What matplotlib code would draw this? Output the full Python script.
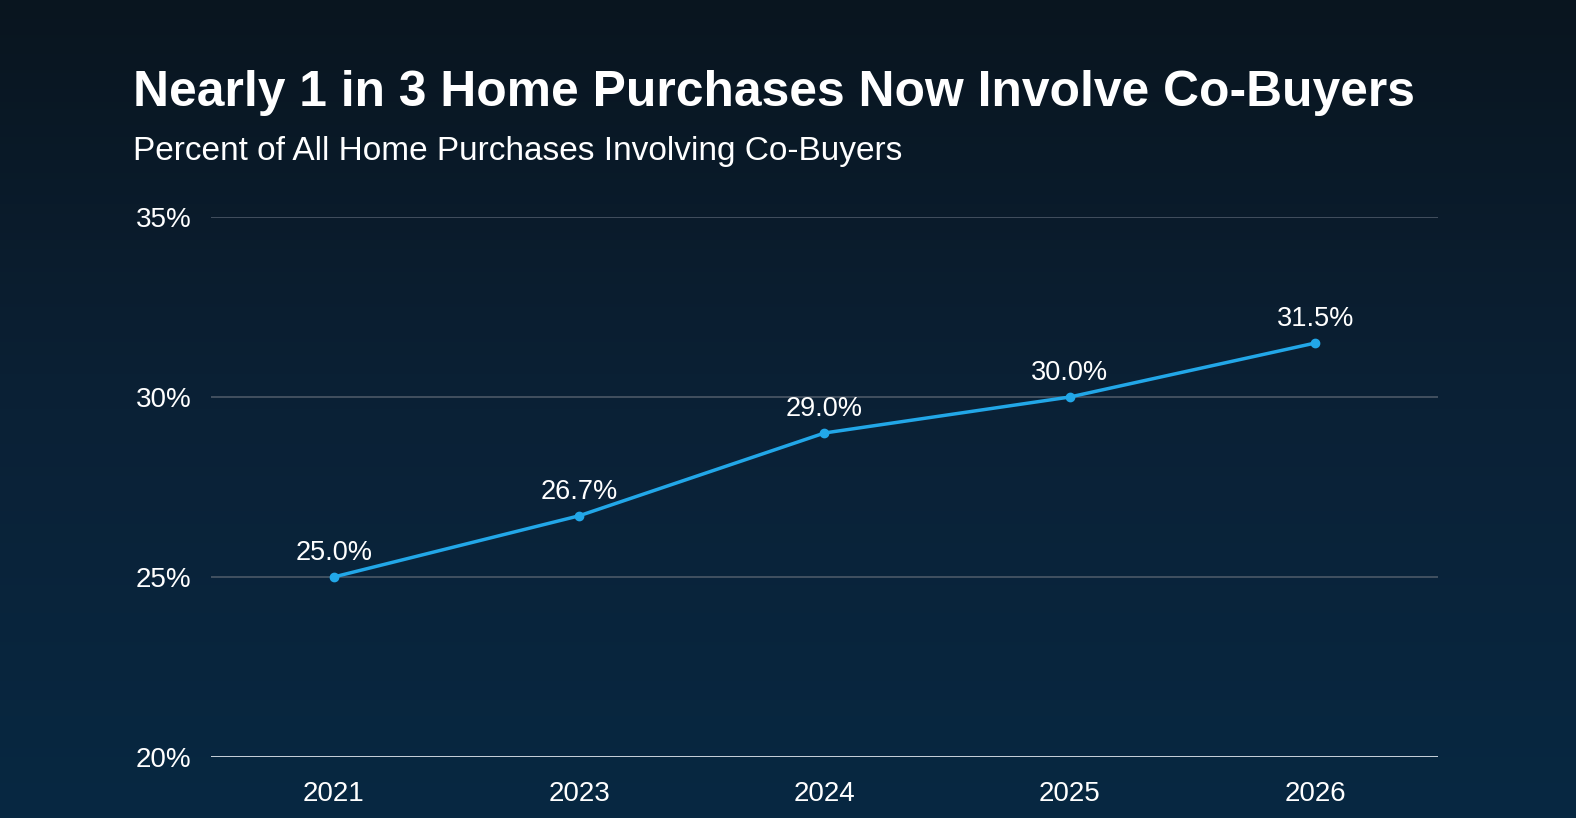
import numpy as np
from matplotlib import pyplot as plt
from matplotlib.colors import LinearSegmentedColormap

# Chart data
years = ['2021', '2023', '2024', '2025', '2026']
share = [25.0, 26.7, 29.0, 30.0, 31.5]
y_ticks = [20, 25, 30, 35]

plt.rcParams['font.family'] = ['Liberation Sans', 'DejaVu Sans']

fig = plt.figure(figsize=(15.76, 8.18), dpi=100)

# Background gradient, dark at the top, a bit bluer at the bottom
bg = fig.add_axes([0, 0, 1, 1], zorder=-10)
cmap = LinearSegmentedColormap.from_list('bg', ['#09151f', '#0b2136', '#072842'])
grad = np.linspace(0, 1, 256).reshape(-1, 1)
bg.imshow(grad, aspect='auto', cmap=cmap, extent=[0, 1, 0, 1], origin='upper')
bg.axis('off')

ax = fig.add_axes([0.1339, 0.0746, 0.9124 - 0.1339, 0.7347 - 0.0746])
ax.set_facecolor('none')

x = np.arange(len(years))
ax.plot(x, share, color='#22a7e8', lw=2.5, marker='o', ms=6, zorder=3)
for xi, v in zip(x, share):
    ax.annotate(f'{v:.1f}%', (xi, v), xytext=(0, 8), textcoords='offset points',
                ha='center', va='bottom', color='white', fontsize=19.5)

ax.set_xlim(-0.5, len(years) - 0.5)
ax.set_ylim(20, 35)
ax.set_yticks(y_ticks)
ax.set_yticklabels([f'{t}%' for t in y_ticks])
ax.set_xticks(x)
ax.set_xticklabels(years)
ax.tick_params(length=0, colors='white', labelsize=20)
ax.tick_params(axis='x', pad=17)
for lab in ax.get_yticklabels():
    lab.set_horizontalalignment('left')
ax.tick_params(axis='y', pad=54)

for t in y_ticks[1:]:
    ax.axhline(t, color='#4b5867', lw=1.2, zorder=1)
ax.axhline(20, color='#c9d2dc', lw=1.4, zorder=1)

for s in ax.spines.values():
    s.set_visible(False)

fig.text(0.0844, 0.870, 'Nearly 1 in 3 Home Purchases Now Involve Co-Buyers',
         color='white', fontsize=35.8, fontweight='bold', ha='left', va='baseline')
fig.text(0.0844, 0.805, 'Percent of All Home Purchases Involving Co-Buyers',
         color='white', fontsize=24, ha='left', va='baseline')

fig.savefig('out.png', dpi=100)
